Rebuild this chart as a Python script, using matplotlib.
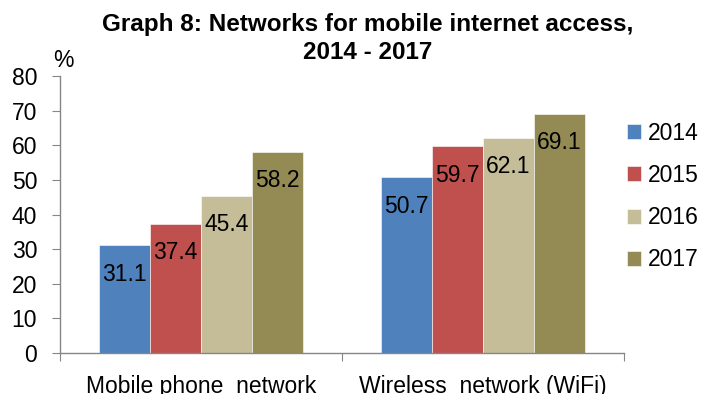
import matplotlib
matplotlib.use("Agg")
import matplotlib.pyplot as plt
import numpy as np

plt.rcParams['font.family'] = ['Liberation Sans', 'DejaVu Sans']

categories = ["Mobile phone  network", "Wireless  network (WiFi)"]
years = ["2014", "2015", "2016", "2017"]
values = {
    "2014": [31.1, 50.7],
    "2015": [37.4, 59.7],
    "2016": [45.4, 62.1],
    "2017": [58.2, 69.1],
}
colors = ["#4F81BD", "#C0504D", "#C4BD97", "#948A54"]
yticks = [0, 10, 20, 30, 40, 50, 60, 70, 80]

FS = 16.5

fig = plt.figure(figsize=(7.02, 3.94), dpi=100)
ax = fig.add_axes([0.0855, 0.104, 0.8035, 0.703])

x = np.arange(len(categories))
width = 0.181
for i, (yr, col) in enumerate(zip(years, colors)):
    pos = x + (i - 1.5) * width
    ax.bar(pos, values[yr], width, color=col, edgecolor="white",
           linewidth=0.4, label=yr)
    for xp, v in zip(pos, values[yr]):
        ax.annotate(f"{v:.1f}", (xp, v), xytext=(0, -12.5), textcoords="offset points",
                    ha="center", va="top", fontsize=FS, color="black")

ax.set_xlim(-0.5, 1.5)
ax.set_ylim(0, 80)
ax.set_yticks(yticks)
ax.set_yticklabels([str(t) for t in yticks], fontsize=FS)
ax.set_xticks([-0.5, 0.5, 1.5], minor=False)
ax.set_xticklabels([])
ax.set_xticks(x, minor=True)
ax.set_xticklabels(categories, minor=True, fontsize=FS)
ax.tick_params(axis="x", which="minor", length=0, pad=15.5)
ax.tick_params(axis="x", which="major", length=6, color="#868686", direction="out")
ax.tick_params(axis="y", length=6, color="#868686", direction="out", pad=10.5)

for s in ["top", "right"]:
    ax.spines[s].set_visible(False)
for s in ["left", "bottom"]:
    ax.spines[s].set_color("#868686")
    ax.spines[s].set_linewidth(1.0)

ax.text(-0.013, 1.015, "%", transform=ax.transAxes, fontsize=FS, ha="left", va="bottom")

fig.text(0.524, 0.968, "Graph 8: Networks for mobile internet access,\n2014 - 2017",
         ha="center", va="top", fontsize=17.5, fontweight="bold", linespacing=1.32)

ax.legend(loc="center left", bbox_to_anchor=(1.005, 0.565), frameon=False,
          fontsize=FS, handlelength=0.62, handleheight=0.62, handletextpad=0.28,
          labelspacing=0.84, borderpad=0, borderaxespad=0)

fig.savefig("out.png", dpi=100)
